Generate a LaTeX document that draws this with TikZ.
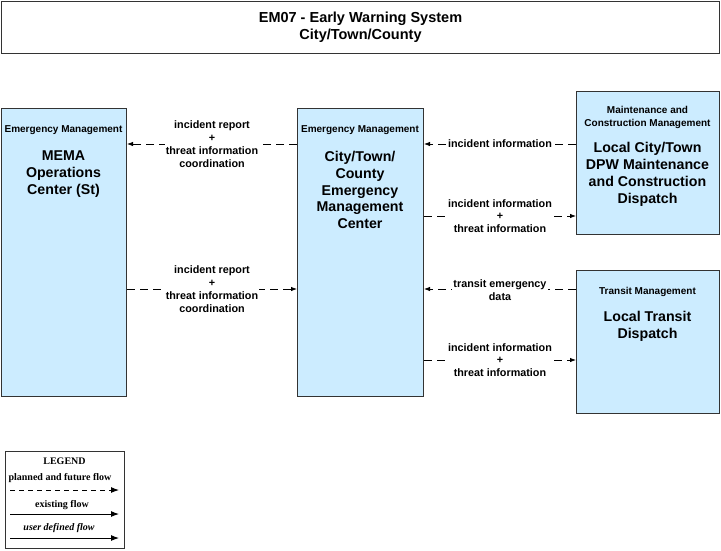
\documentclass[tikz,border=0pt]{standalone}
\usepackage{fontspec}
\setmainfont{Liberation Sans}
\newfontfamily\legendfont{Liberation Serif}
\usetikzlibrary{arrows.meta}
\definecolor{boxfill}{RGB}{204,236,255}
\definecolor{edge}{RGB}{51,51,51}
\begin{document}
\begin{tikzpicture}[x=1pt,y=-1pt,
  box/.style={draw=edge, line width=1pt, fill=boxfill, anchor=north west, inner sep=0pt},
  plainbox/.style={draw=edge, line width=1pt, fill=white, anchor=north west, inner sep=0pt},
  hdr/.style={font=\fontsize{10}{12.8}\selectfont\bfseries, align=center, inner sep=0pt},
  ttl/.style={font=\fontsize{14.2}{16.8}\selectfont\bfseries, align=center, inner sep=0pt},
  lbl/.style={font=\fontsize{10.8}{12.8}\selectfont\bfseries, align=center, fill=white, inner sep=1pt},
  flow/.style={draw=black, line width=0.8pt, dash pattern=on 8pt off 5pt, -{Latex[length=6pt,width=4.5pt]}},
  legflow/.style={draw=black, line width=1pt, -{Latex[length=8pt,width=6pt]}},
  leg/.style={font=\legendfont\fontsize{10}{12}\selectfont\bfseries, inner sep=0pt},
]
\useasboundingbox (0,0) rectangle (721,550);

% title
\node[plainbox, minimum width=718pt, minimum height=52pt] (titlebox) at (1,1) {};
\node[font=\fontsize{14.5}{17}\selectfont\bfseries, align=center, inner sep=0pt] (titletext) at (titlebox.center) {EM07 - Early Warning System\\City/Town/County};

% boxes
\node[box, minimum width=125pt, minimum height=288pt] (mema) at (1,108) {};
\node[box, minimum width=126pt, minimum height=288pt] (cem) at (297,108) {};
\node[box, minimum width=143pt, minimum height=143pt] (dpw) at (576,91) {};
\node[box, minimum width=143pt, minimum height=143pt] (transit) at (576,270) {};

\node[hdr] (memahdr) at (63.5,130) {Emergency Management};
\node[ttl] (memattl) at (63.5,174) {MEMA\\Operations\\Center (St)};

\node[hdr] (cemhdr) at (360,130) {Emergency Management};
\node[ttl] (cemttl) at (360,190) {City/Town/\\County\\Emergency\\Management\\Center};

\node[hdr] (dpwhdr) at (647.5,117.5) {Maintenance and\\Construction Management};
\node[ttl] (dpwttl) at (647.5,174.5) {Local City/Town\\DPW Maintenance\\and Construction\\Dispatch};

\node[hdr] (transithdr) at (647.5,292) {Transit Management};
\node[ttl] (transitttl) at (647.5,326.5) {Local Transit\\Dispatch};

% flows
\draw[flow] (cem.west |- 0,144) -- node[lbl] (l1) {incident report\\+\\threat information\\coordination} (mema.east |- 0,144);
\draw[flow] (mema.east |- 0,289) -- node[lbl] (l2) {incident report\\+\\threat information\\coordination} (cem.west |- 0,289);
\draw[flow] (dpw.west |- 0,144) -- node[lbl] (l3) {incident information} (cem.east |- 0,144);
\draw[flow] (cem.east |- 0,216) -- node[lbl] (l4) {incident information\\+\\threat information} (dpw.west |- 0,216);
\draw[flow] (transit.west |- 0,289) -- node[lbl, yshift=-1.5pt] (l5) {transit emergency\\data} (cem.east |- 0,289);
\draw[flow] (cem.east |- 0,360) -- node[lbl] (l6) {incident information\\+\\threat information} (transit.west |- 0,360);

% legend
\node[plainbox, minimum width=119pt, minimum height=97pt] (legend) at (5,451) {};
\node[leg] (legtitle) at (64.5,461) {LEGEND};
\node[leg] (legplanned) at (60,478) {planned and future flow};
\coordinate (p1) at (10,490);
\coordinate (p2) at (119,490);
\draw[legflow, dash pattern=on 5pt off 4pt] (p1) -- (p2);
\node[leg] (legexist) at (62,505) {existing flow};
\coordinate (e1) at (10,514);
\coordinate (e2) at (119,514);
\draw[legflow] (e1) -- (e2);
\node[leg, font=\legendfont\fontsize{10}{12}\selectfont\bfseries\itshape] (leguser) at (59,528) {user defined flow};
\coordinate (u1) at (10,538);
\coordinate (u2) at (119,538);
\draw[legflow] (u1) -- (u2);
\end{tikzpicture}
\end{document}
